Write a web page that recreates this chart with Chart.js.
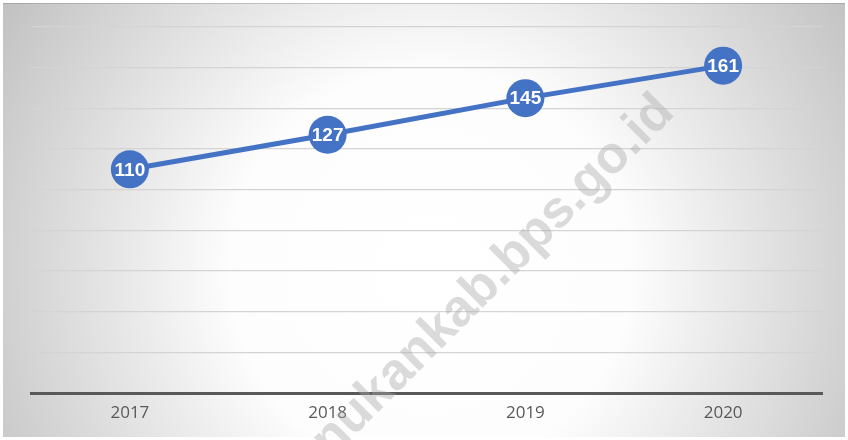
<!DOCTYPE html>
<html lang="id">
<head>
<meta charset="UTF-8">
<title>Grafik</title>
<script src="https://cdn.jsdelivr.net/npm/chart.js"></script>
<style>
  html, body { margin: 0; padding: 0; background: #fff; }
  #wrap { width: 848px; height: 440px; }
</style>
</head>
<body>
<div id="wrap"><canvas id="grafik"></canvas></div>
<script>
// data
const tahun = ['2017', '2018', '2019', '2020'];
const nilai = [110, 127, 145, 161];
const watermark = 'nunukankab.bps.go.id';

const biru = '#4472C4';

// latar belakang gradasi
const latar = {
  id: 'latar',
  beforeDraw(chart) {
    const c = chart.ctx;
    c.save();
    c.fillStyle = '#ffffff';
    c.fillRect(0, 0, chart.width, chart.height);
    const g = c.createRadialGradient(430, 270, 0, 430, 270, 500);
    g.addColorStop(0, '#ffffff');
    g.addColorStop(0.4, '#fdfdfd');
    g.addColorStop(1, '#c2c2c2');
    c.fillStyle = g;
    c.fillRect(3, 3, chart.width - 6, chart.height - 6);
    c.fillStyle = 'rgba(120,120,120,0.35)';
    c.fillRect(3, 3, chart.width - 6, 1);
    c.restore();
  }
};

// tanda air
const tandaAir = {
  id: 'tandaAir',
  beforeDatasetsDraw(chart) {
    const c = chart.ctx;
    c.save();
    c.translate(666, 104);
    c.rotate(-Math.PI / 4);
    c.font = 'bold 52px "Liberation Sans", Arial, sans-serif';
    c.fillStyle = 'rgba(170,170,170,0.42)';
    c.textAlign = 'right';
    c.textBaseline = 'middle';
    c.fillText(watermark, 0, 0);
    c.restore();
  }
};

// label nilai di dalam titik
const labelNilai = {
  id: 'labelNilai',
  afterDatasetsDraw(chart) {
    const c = chart.ctx;
    const meta = chart.getDatasetMeta(0);
    c.save();
    c.font = 'bold 19px "Liberation Sans Narrow", "Liberation Sans", sans-serif';
    c.fillStyle = '#ffffff';
    c.textAlign = 'center';
    c.textBaseline = 'middle';
    meta.data.forEach((p, i) => {
      c.fillText(String(nilai[i]), p.x, p.y + 1);
    });
    c.restore();
  }
};

const ctx = document.getElementById('grafik').getContext('2d');
new Chart(ctx, {
  type: 'line',
  data: {
    labels: tahun,
    datasets: [{
      data: nilai,
      borderColor: biru,
      borderWidth: 5,
      backgroundColor: biru,
      pointRadius: 19,
      pointHoverRadius: 19,
      pointBorderWidth: 0,
      pointBackgroundColor: biru,
      tension: 0
    }]
  },
  options: {
    responsive: true,
    maintainAspectRatio: false,
    animation: false,
    events: [],
    layout: { padding: { left: 31, right: 26, top: 27, bottom: 0 } },
    plugins: {
      legend: { display: false },
      tooltip: { enabled: false }
    },
    scales: {
      x: {
        offset: true,
        grid: { display: false, drawTicks: false },
        border: { display: true, color: '#595959', width: 3 },
        ticks: {
          color: '#595959',
          font: { family: '"Open Sans", "Liberation Sans", sans-serif', size: 17 },
          padding: 10
        },
        afterFit(s) { s.height = 47; }
      },
      y: {
        min: 0,
        max: 180,
        ticks: { display: false, stepSize: 20 },
        grid: { color: '#d4d4d4', lineWidth: 1.2, drawTicks: false },
        border: { display: false },
        afterFit(s) { s.width = 0; }
      }
    }
  },
  plugins: [latar, tandaAir, labelNilai]
});
</script>
</body>
</html>
